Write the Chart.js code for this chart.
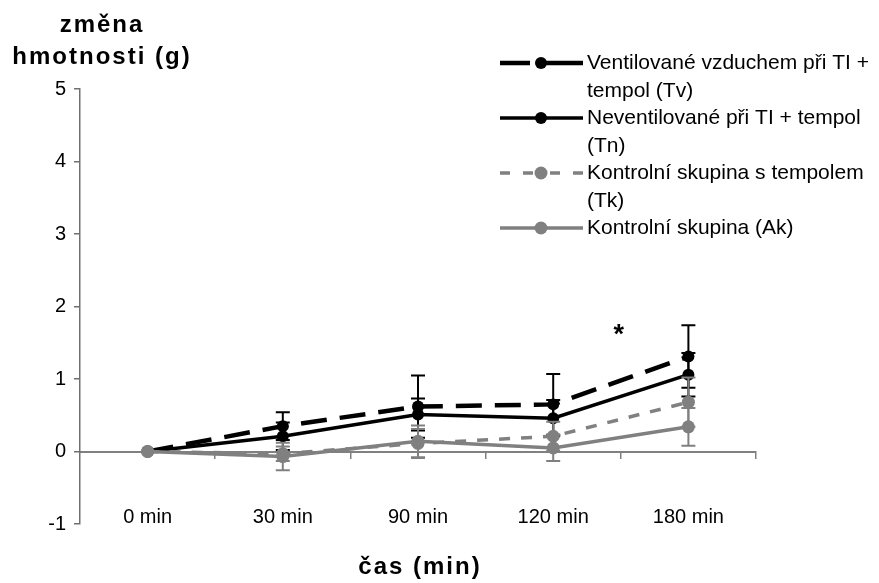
<!DOCTYPE html>
<html>
<head>
<meta charset="utf-8">
<script src="https://cdn.jsdelivr.net/npm/chart.js"></script>
<style>
  body { margin: 0; background: #fff; }
  #wrap { width: 879px; height: 583px; }
</style>
</head>
<body>
<div id="wrap"><canvas id="graf"></canvas></div>
<script>
// časy měření
const casy = ['0 min', '30 min', '90 min', '120 min', '180 min'];

// průměrná změna hmotnosti (g) a směrodatné odchylky
const tv = [0, 0.35, 0.62, 0.65, 1.31];
const tvErr = [0, 0.19, 0.43, 0.42, 0.43];
const tn = [0, 0.21, 0.51, 0.46, 1.06];
const tnErr = [0, 0.19, 0.22, 0.25, 0.30];
const tk = [0, -0.03, 0.11, 0.21, 0.68];
const tkErr = [0, 0.10, 0.20, 0.20, 0.34];
const ak = [0, -0.07, 0.14, 0.05, 0.34];
const akErr = [0, 0.19, 0.22, 0.18, 0.26];

const legendLines = [
  ['Ventilované vzduchem při TI +', 'tempol (Tv)'],
  ['Neventilované při TI + tempol', '(Tn)'],
  ['Kontrolní skupina s tempolem', '(Tk)'],
  ['Kontrolní skupina (Ak)']
];

const FONT = "'Liberation Sans', Arial, sans-serif";
const SEDA = '#808080';

// chybové úsečky kreslené pod každou řadou
const errorBars = {
  id: 'errorBars',
  beforeDatasetDraw(chart, args) {
    const ds = chart.data.datasets[args.index];
    const y = chart.scales.y;
    const ctx = chart.ctx;
    ctx.save();
    ctx.strokeStyle = ds.borderColor;
    ctx.lineWidth = 2;
    args.meta.data.forEach((pt, i) => {
      const e = ds.errors[i];
      if (!e) return;
      const v = ds.data[i];
      const top = y.getPixelForValue(v + e);
      const bot = y.getPixelForValue(v - e);
      ctx.beginPath();
      ctx.moveTo(pt.x, top); ctx.lineTo(pt.x, bot);
      ctx.moveTo(pt.x - 7, top); ctx.lineTo(pt.x + 7, top);
      ctx.moveTo(pt.x - 7, bot); ctx.lineTo(pt.x + 7, bot);
      ctx.stroke();
    });
    ctx.restore();
  }
};

// popisky os, hvězdička a legenda
const texty = {
  id: 'texty',
  afterDraw(chart) {
    const ctx = chart.ctx;
    const sx = chart.scales.x, sy = chart.scales.y;
    ctx.save();
    ctx.fillStyle = '#000';
    ctx.textAlign = 'center';
    ctx.textBaseline = 'middle';
    ctx.font = 'bold 24px ' + FONT;
    ctx.letterSpacing = '2px';
    ctx.fillText('změna', 102, 25);
    ctx.fillText('hmotnosti (g)', 102, 57);
    ctx.fillText('čas (min)', 420, 567);
    ctx.letterSpacing = '0px';

    // významnost mezi 120 a 180 min
    ctx.font = 'bold 27px ' + FONT;
    const hx = (sx.getPixelForValue(3) + sx.getPixelForValue(4)) / 2;
    ctx.fillText('*', hx - 2, sy.getPixelForValue(1.68) + 6);

    // legenda
    ctx.textAlign = 'left';
    ctx.font = '21px ' + FONT;
    chart.data.datasets.forEach((ds, i) => {
      const ly = 63 + i * 55;
      ctx.save();
      ctx.strokeStyle = ds.borderColor;
      ctx.lineWidth = ds.borderWidth;
      ctx.setLineDash(ds.legendDash || []);
      ctx.beginPath();
      ctx.moveTo(500, ly); ctx.lineTo(583, ly);
      ctx.stroke();
      ctx.setLineDash([]);
      ctx.fillStyle = ds.pointBackgroundColor;
      ctx.beginPath();
      ctx.arc(541, ly, ds.pointRadius, 0, Math.PI * 2);
      ctx.fill();
      ctx.restore();
      legendLines[i].forEach((t, j) => ctx.fillText(t, 587, ly + j * 28));
    });
    ctx.restore();
  }
};

new Chart(document.getElementById('graf'), {
  type: 'line',
  data: {
    labels: casy,
    datasets: [
      { label: 'Tv', data: tv, errors: tvErr, borderColor: '#000', borderWidth: 4.5,
        borderDash: [26, 13], legendDash: [30, 16, 37, 0], pointRadius: 6,
        pointBackgroundColor: '#000', pointBorderColor: '#000', pointBorderWidth: 0, order: 4 },
      { label: 'Tn', data: tn, errors: tnErr, borderColor: '#000', borderWidth: 3.5,
        pointRadius: 6, pointBackgroundColor: '#000', pointBorderColor: '#000',
        pointBorderWidth: 0, order: 3 },
      { label: 'Tk', data: tk, errors: tkErr, borderColor: SEDA, borderWidth: 3.5,
        borderDash: [11, 11], legendDash: [10, 13, 10, 17, 10, 13, 10], pointRadius: 6.5,
        pointBackgroundColor: SEDA, pointBorderColor: SEDA, pointBorderWidth: 0, order: 2 },
      { label: 'Ak', data: ak, errors: akErr, borderColor: SEDA, borderWidth: 3.5,
        pointRadius: 6.5, pointBackgroundColor: SEDA, pointBorderColor: SEDA,
        pointBorderWidth: 0, order: 1 }
    ]
  },
  options: {
    responsive: true,
    maintainAspectRatio: false,
    animation: false,
    layout: { padding: { top: 89, right: 123, bottom: 59, left: 0 } },
    plugins: { legend: { display: false }, tooltip: { enabled: false } },
    scales: {
      x: {
        type: 'category',
        offset: true,
        position: { y: 0 },
        grid: {
          offset: true,
          drawOnChartArea: false,
          tickLength: 6,
          lineWidth: 1.5,
          color: (c) => (c.index === 0 || c.index === casy.length) ? 'rgba(0,0,0,0)' : SEDA
        },
        border: { color: SEDA, width: 2 },
        ticks: { color: '#000', font: { size: 20, family: FONT }, padding: 48, maxRotation: 0 },
        afterFit(s) { s.height = 0; }
      },
      y: {
        min: -1,
        max: 5,
        ticks: { stepSize: 1, color: '#000', font: { size: 20, family: FONT }, padding: 8 },
        grid: { drawOnChartArea: false, tickLength: 6, lineWidth: 1.5, color: '#707070' },
        border: { color: '#707070', width: 1.5 },
        afterFit(s) { s.width = 80; }
      }
    }
  },
  plugins: [errorBars, texty]
});
</script>
</body>
</html>
